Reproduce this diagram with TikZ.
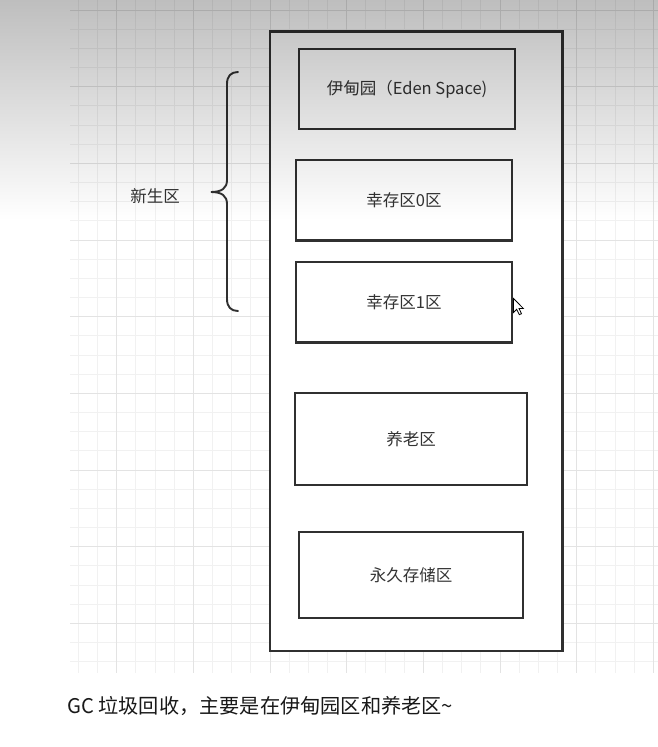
\documentclass[tikz,border=0pt]{standalone}
\usepackage{fontspec}
\setmainfont{Noto Sans CJK SC}
\definecolor{linec}{HTML}{303030}
\definecolor{txtc}{HTML}{333333}
\definecolor{minorg}{HTML}{F1F1F1}
\definecolor{majorg}{HTML}{E3E3E3}
\definecolor{shadetop}{HTML}{BEBEBE}
\begin{document}
\begin{tikzpicture}[x=1pt,y=-1pt,
  minorgrid/.style={draw=minorg, line width=1pt},
  majorgrid/.style={draw=majorg, line width=1pt},
  box/.style={draw=linec, line width=2.2pt, fill=white, inner sep=0pt,
    font=\fontsize{16.5}{19}\selectfont, text=txtc},
  bracestyle/.style={draw=linec, line width=1.9pt, line cap=round},
  lbl/.style={font=\fontsize{16.5}{19}\selectfont, text=txtc, inner sep=0pt},
  caption/.style={font=\fontsize{20.2}{23}\selectfont, text=black!90, inner sep=0pt, anchor=west},
  cursorstyle/.style={draw=black, fill=white, line width=0.8pt, line join=miter}
]
\useasboundingbox (0,0) rectangle (658,747);
\fill[white] (0,0) rectangle (658,747);
% grid
\begin{scope}
  \clip (70,0) rectangle (658,673);
  \foreach \i in {-3,...,29} \draw[minorgrid] ({116.67+19.1667*\i},0) -- ++(0,673);
  \foreach \k in {0,...,34} \draw[minorgrid] (70,{10+19.1667*\k}) -- ++(588,0);
  \foreach \i in {-1,...,7} \draw[majorgrid] ({116.67+76.667*\i},0) -- ++(0,673);
  \foreach \k in {0,...,8} \draw[majorgrid] (70,{10+76.667*\k}) -- ++(588,0);
\end{scope}
% heap container
\node[box, minimum width=292.5pt, minimum height=619.5pt] (heap) at (416.25,341.25) {};
% inner areas
\node[box, minimum width=216pt, minimum height=80pt] (eden) at (407,89) {伊甸园（Eden Space)};
\node[box, minimum width=216pt, minimum height=80.5pt] (s0) at (404,200.3) {幸存区0区};
\node[box, minimum width=216pt, minimum height=80.5pt] (s1) at (404,302.3) {幸存区1区};
\node[box, minimum width=232pt, minimum height=92pt] (old) at (411,439) {养老区};
\node[box, minimum width=224pt, minimum height=86pt] (perm) at (411,575) {永久存储区};
% brace
\draw[bracestyle] (238,72) .. controls (231,72) and (227,76) .. (227,84) -- (227,180)
  .. controls (227,188) and (222,192) .. (211,192)
  .. controls (222,192) and (227,196) .. (227,204) -- (227,299)
  .. controls (227,307) and (231,311) .. (238,311);
\node[lbl] (young) at (155,196) {新生区};
% mouse cursor
\coordinate (tip) at (513.5,298.5);
\draw[cursorstyle] (tip) -- ++(0,14) -- ++(3.2,-3.2) -- ++(2.6,5.4) -- ++(2.2,-1) -- ++(-2.5,-5.2) -- ++(4.4,0) -- cycle;
% top shadow gradient (multiplied over everything)
\begin{scope}[blend mode=multiply]
  \shade[top color=shadetop, bottom color=white] (0,0) rectangle (658,220);
\end{scope}
% caption
\node[caption] (cap) at (67,706) {GC 垃圾回收，主要是在伊甸园区和养老区\textasciitilde};
\end{tikzpicture}
\end{document}
